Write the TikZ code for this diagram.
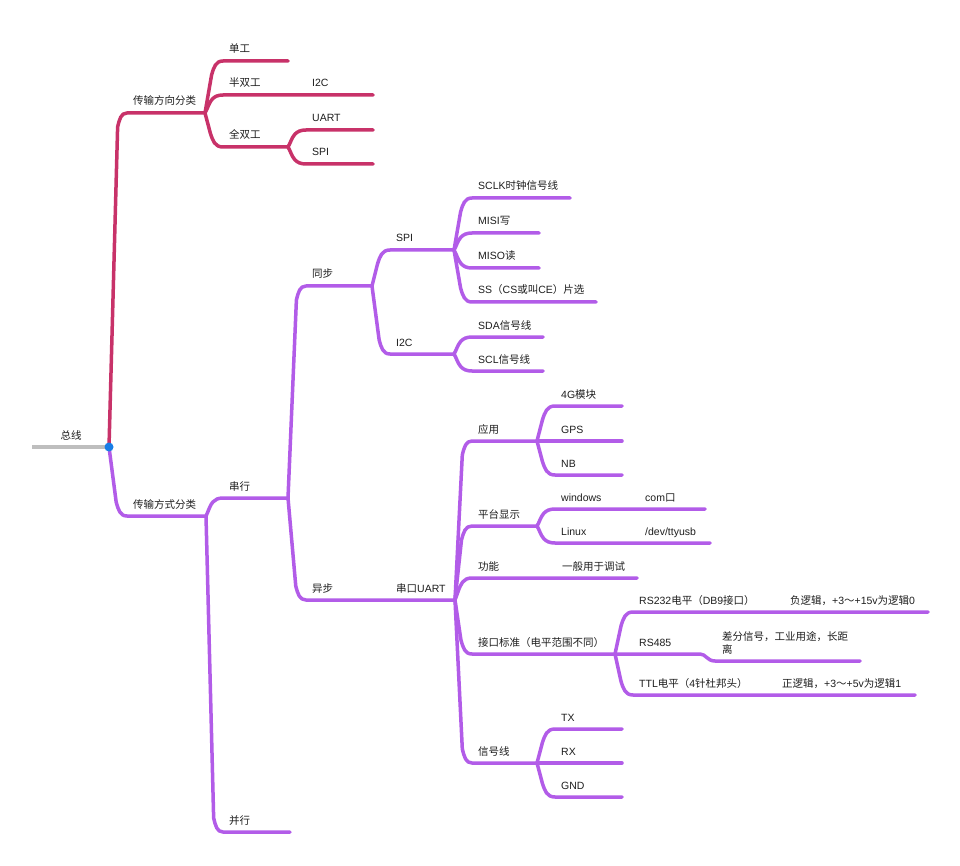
\documentclass[tikz,border=0pt]{standalone}
\usepackage{fontspec}
\setmainfont{Noto Sans CJK SC}
\newfontfamily\latfont{Liberation Sans}
\newcommand{\lt}[1]{{\latfont #1}}
\usetikzlibrary{calc}
\definecolor{pk}{RGB}{200,50,105}
\definecolor{pu}{RGB}{178,92,232}
\definecolor{txtc}{RGB}{30,30,30}
\definecolor{gr}{RGB}{190,190,190}
\definecolor{bl}{RGB}{25,125,230}
\newcommand{\mmb}[7]{%
  \coordinate (#3s) at (#4,#5);
  \coordinate (#3) at (#6,#5);
  \draw[#1] (#2) to[br] (#3s) -- (#3);
  \node[lbl] (#3t) at ({#4+6},{#5-8}) {#7};
}
\begin{document}
\begin{tikzpicture}[x=1pt,y=-1pt,
  br/.style={to path={let \p1=(\tikztostart),\p2=(\tikztotarget),
     \n1={\y2-\y1},\n2={max(abs(\n1),0.01)},\n3={min(\n2,14)},\n4={\n3/\n2},\n5={\n1/\n2},
     \n6={\x1+(1-\n4)*(\x2-\x1-9)} in
     -- ({\n6},{\y2-\n5*\n3}) .. controls ({\n6+0.2*(\x2-\n6)},{\y2-\n5*\n3*0.45}) and ({\n6+0.35*(\x2-\n6)},\y2) .. (\x2,\y2)}},
  pkl/.style={draw=pk,line width=3.5pt,line cap=round,line join=round},
  pul/.style={draw=pu,line width=3.5pt,line cap=round,line join=round},
  lbl/.style={anchor=base west,inner sep=0pt,text=txtc,font=\fontsize{10.5}{13}\selectfont},
]
\fill[white] (0,0) rectangle (960,866);
\useasboundingbox (0,0) rectangle (960,866);

\coordinate (root) at (109,447);
\coordinate (rootL) at (32,447);
\draw[draw=gr,line width=3.5pt] (rootL) -- (root);
\node[lbl,anchor=base] (roott) at (71,439) {总线};

% pink
\mmb{pkl}{root}{dir}{127}{113}{205}{传输方向分类}
\mmb{pkl}{dir}{dan}{223}{61}{288}{单工}
\mmb{pkl}{dir}{ban}{223}{95}{373}{半双工}
\node[lbl] (bani2c) at (312,87) {\lt{I2C}};
\mmb{pkl}{dir}{quan}{223}{147}{288}{全双工}
\mmb{pkl}{quan}{quart}{306}{130}{373}{\lt{UART}}
\mmb{pkl}{quan}{qspi}{306}{164}{373}{\lt{SPI}}

% purple
\mmb{pul}{root}{way}{127}{516}{206}{传输方式分类}
\mmb{pul}{way}{ser}{223}{498}{288}{串行}
\mmb{pul}{ser}{syn}{306}{286}{372}{同步}
\mmb{pul}{syn}{spi}{390}{250}{454}{\lt{SPI}}
\mmb{pul}{spi}{sclk}{472}{198}{570}{\lt{SCLK}时钟信号线}
\mmb{pul}{spi}{misi}{472}{233}{539}{\lt{MISI}写}
\mmb{pul}{spi}{miso}{472}{268}{539}{\lt{MISO}读}
\mmb{pul}{spi}{ss}{472}{302}{596}{\lt{SS}（\lt{CS}或叫\lt{CE}）片选}
\mmb{pul}{syn}{iic}{390}{354}{454}{\lt{I2C}}
\mmb{pul}{iic}{sda}{472}{337}{543}{\lt{SDA}信号线}
\mmb{pul}{iic}{scl}{472}{371}{543}{\lt{SCL}信号线}
\mmb{pul}{ser}{asy}{306}{600}{455}{异步}
\node[lbl] (uartt) at (396,592) {串口\lt{UART}};
\mmb{pul}{asy}{app}{472}{441}{537}{应用}
\mmb{pul}{app}{gfour}{555}{406}{622}{\lt{4G}模块}
\mmb{pul}{app}{gps}{555}{441}{622}{\lt{GPS}}
\mmb{pul}{app}{nb}{555}{475}{622}{\lt{NB}}
\mmb{pul}{asy}{plat}{472}{526}{537}{平台显示}
\mmb{pul}{plat}{win}{555}{509}{705}{\lt{windows}}
\node[lbl] (comt) at (645,501) {\lt{com}口};
\mmb{pul}{plat}{lin}{555}{543}{710}{\lt{Linux}}
\node[lbl] (devt) at (645,535) {\lt{/dev/ttyusb}};
\mmb{pul}{asy}{func}{472}{578}{637}{功能}
\node[lbl] (debugt) at (562,570) {一般用于调试};
\mmb{pul}{asy}{std}{472}{654}{615}{接口标准（电平范围不同）}
\mmb{pul}{std}{rstwo}{633}{612}{928}{\lt{RS232}电平（\lt{DB9}接口）}
\node[lbl] (negt) at (790,604) {负逻辑，\lt{+3}～\lt{+15v}为逻辑\lt{0}};
\coordinate (rsfour) at (700,654);
\coordinate (rsfourb) at (715,661);
\coordinate (rsfoure) at (860,661);
\draw[pul] (std) -- (rsfour) .. controls (706,654) and (707,661) .. (rsfourb) -- (rsfoure);
\node[lbl] (rsfourt) at (639,646) {\lt{RS485}};
\node[lbl,anchor=north west,align=left] (difft) at (722,631) {差分信号，工业用途，长距\\离};
\mmb{pul}{std}{ttl}{633}{695}{915}{\lt{TTL}电平（\lt{4}针杜邦头）}
\node[lbl] (post) at (782,687) {正逻辑，\lt{+3}～\lt{+5v}为逻辑\lt{1}};
\mmb{pul}{asy}{sig}{472}{763}{537}{信号线}
\mmb{pul}{sig}{txl}{555}{729}{622}{\lt{TX}}
\mmb{pul}{sig}{rxl}{555}{763}{622}{\lt{RX}}
\mmb{pul}{sig}{gnd}{555}{797}{622}{\lt{GND}}
\mmb{pul}{way}{par}{223}{832}{290}{并行}

\fill[bl] (root) circle (4.5pt);
\end{tikzpicture}
\end{document}
